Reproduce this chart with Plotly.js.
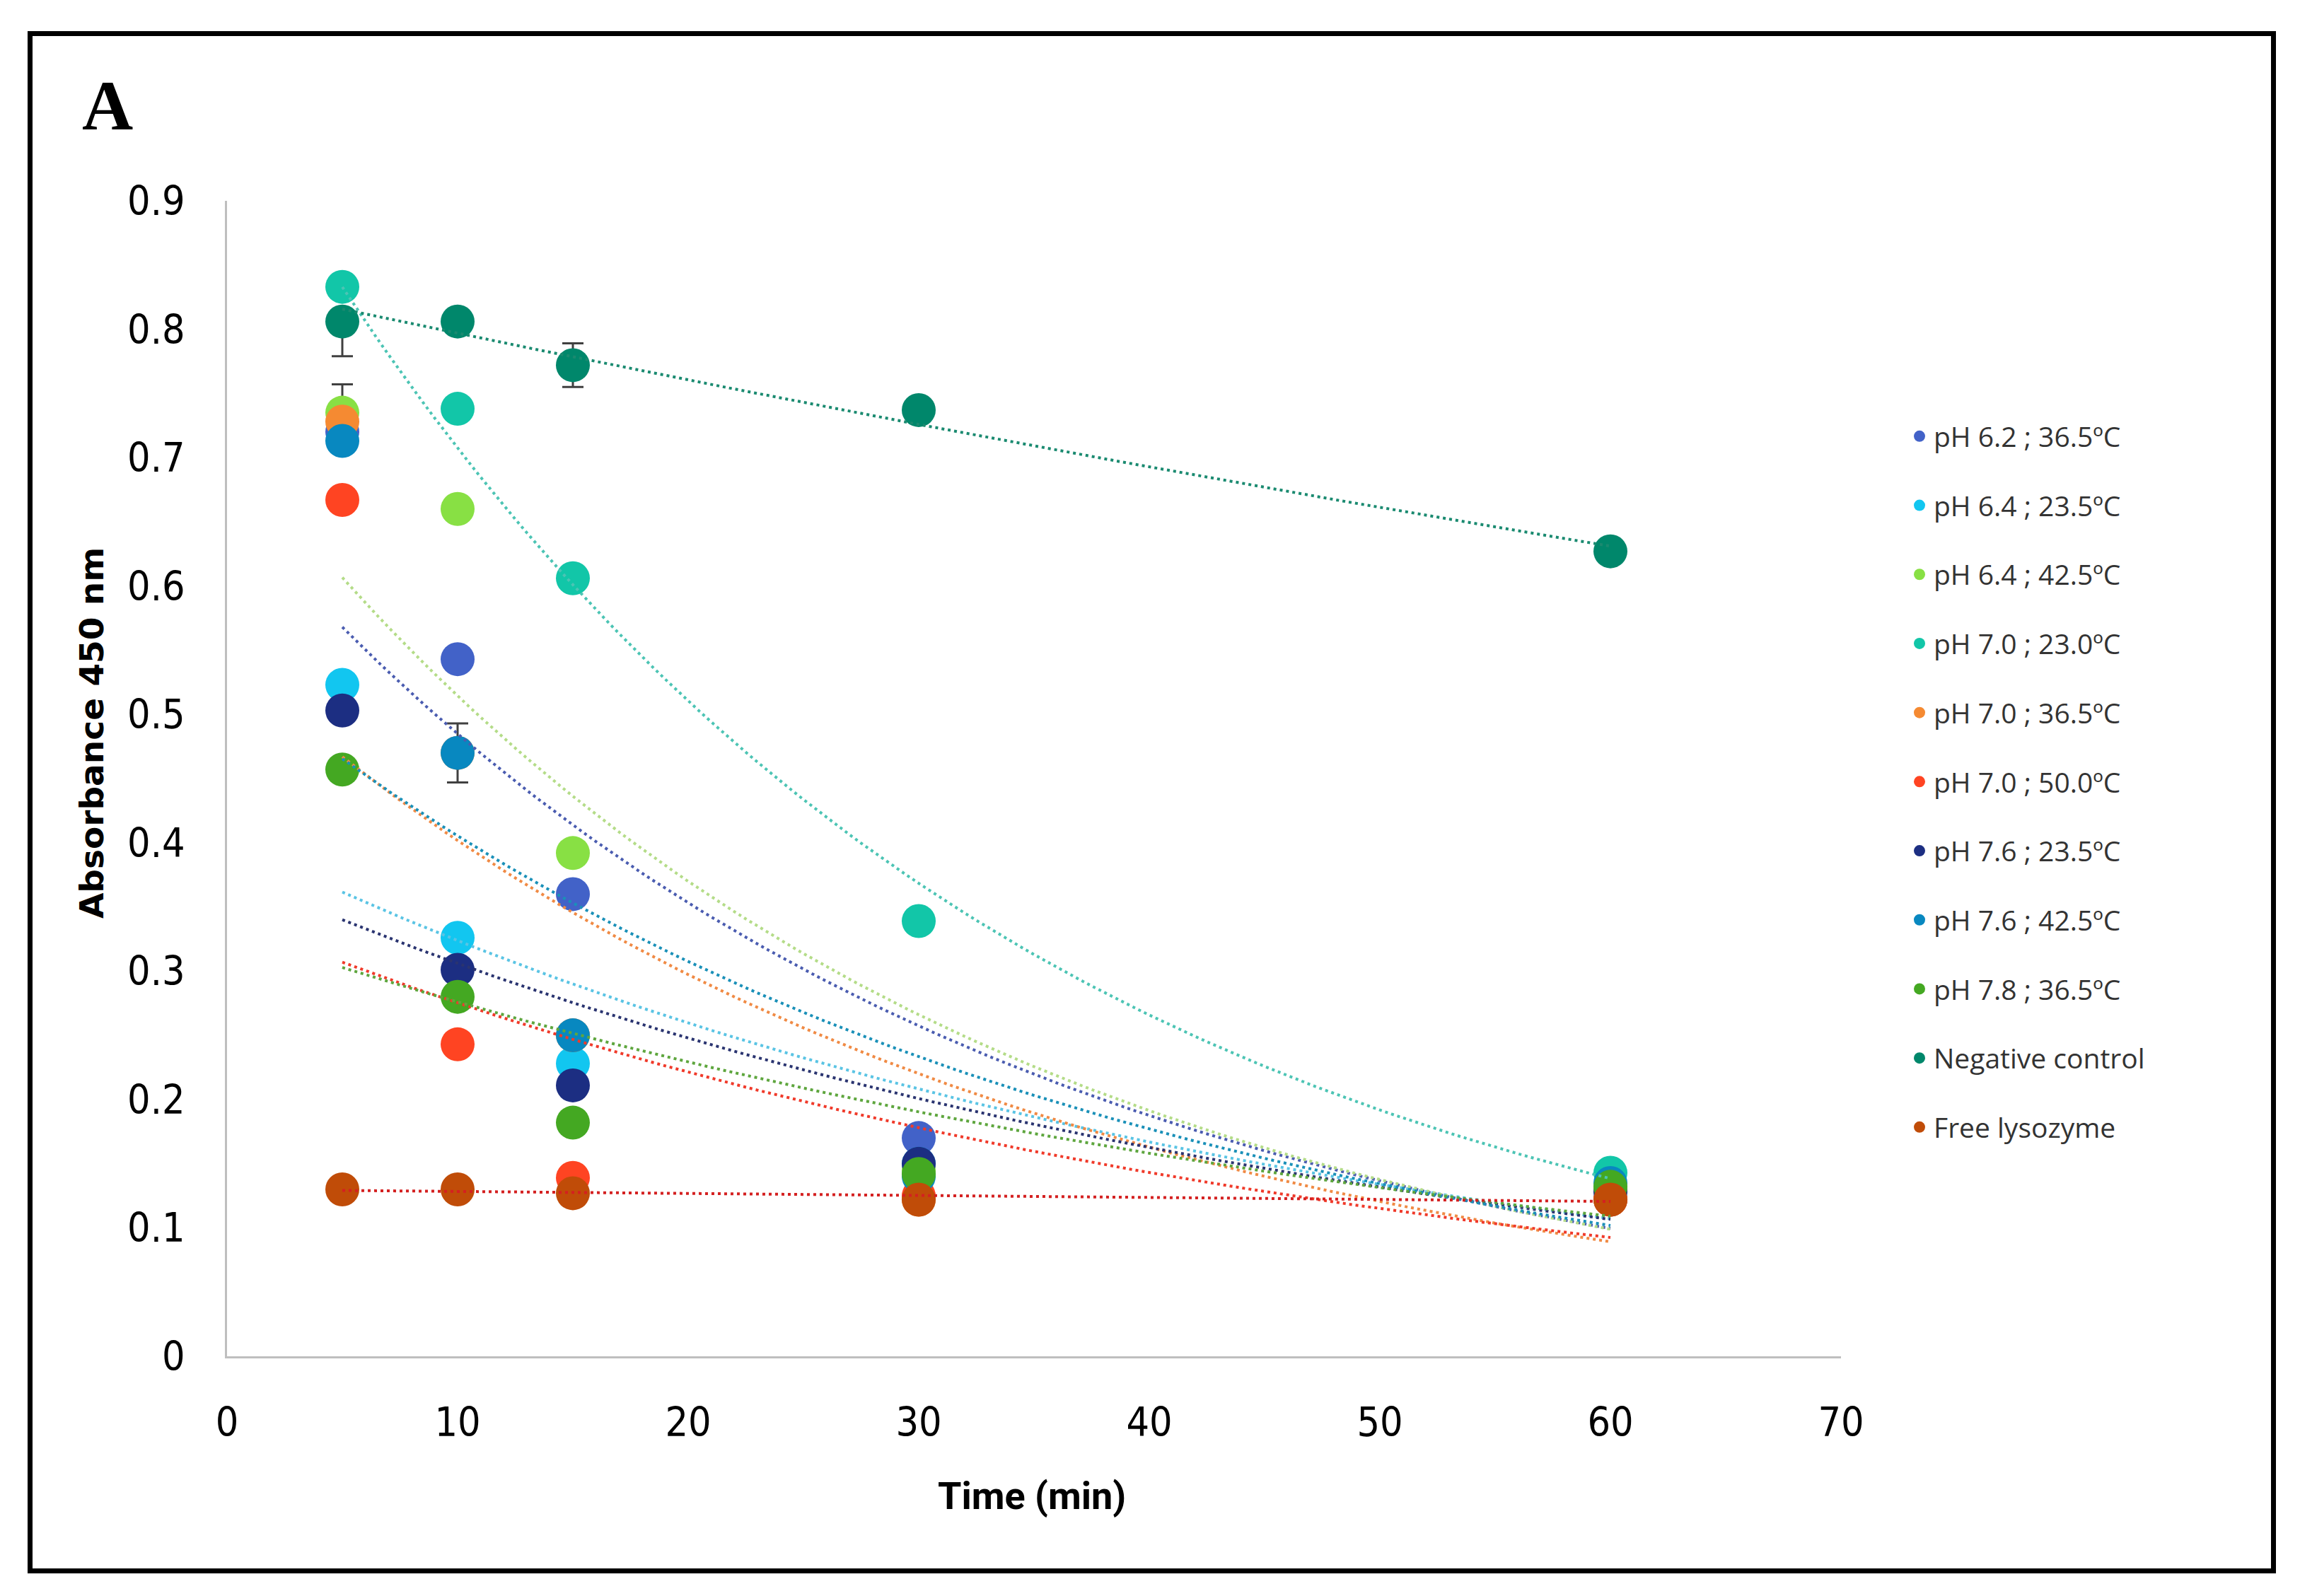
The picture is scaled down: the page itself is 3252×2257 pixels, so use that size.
<!DOCTYPE html>
<html>
<head>
<meta charset="utf-8">
<script src="https://cdn.plot.ly/plotly-3.0.1.min.js"></script>
<style>
html,body{margin:0;padding:0;background:#fff;}
#chart{width:3252px;height:2257px;}
</style>
</head>
<body>
<div id="chart"></div>
<script>
// ---- data ----
const times = [5, 10, 15, 30, 60];

const seriesNames = [
  'pH 6.2 ; 36.5ºC', 'pH 6.4 ; 23.5ºC', 'pH 6.4 ; 42.5ºC', 'pH 7.0 ; 23.0ºC',
  'pH 7.0 ; 36.5ºC', 'pH 7.0 ; 50.0ºC', 'pH 7.6 ; 23.5ºC', 'pH 7.6 ; 42.5ºC',
  'pH 7.8 ; 36.5ºC', 'Negative control', 'Free lysozyme'
];

const ph62_365 = [0.720, 0.543, 0.360, 0.170, 0.122];
const ph64_235 = [0.523, 0.326, 0.228, 0.150, 0.130];
const ph64_425 = [0.735, 0.660, 0.392, 0.145, 0.130];
const ph70_230 = [0.833, 0.738, 0.606, 0.339, 0.143];
const ph70_365 = [0.728, 0.470, 0.250, 0.122, 0.122];
const ph70_500 = [0.667, 0.243, 0.139, 0.125, 0.122];
const ph76_235 = [0.503, 0.301, 0.211, 0.150, 0.128];
const ph76_425 = [0.713, 0.470, 0.250, 0.140, 0.135];
const ph78_365 = [0.457, 0.280, 0.182, 0.142, 0.132];
const negControl = [0.806, 0.806, 0.772, 0.737, 0.627];
const freeLysozyme = [0.130, 0.130, 0.127, 0.122, 0.122];

// visible error bars (plus / minus parts; 0 = none visible)
const ph64_425ErrPlus  = [0.022, 0, 0, 0, 0];
const ph64_425ErrMinus = [0, 0, 0, 0, 0];
const ph76_425ErrPlus  = [0, 0.023, 0, 0, 0];
const ph76_425ErrMinus = [0, 0.023, 0, 0, 0];
const negControlErrPlus  = [0, 0, 0.017, 0, 0.006];
const negControlErrMinus = [0.027, 0, 0.017, 0, 0.006];

const seriesValues = [ph62_365, ph64_235, ph64_425, ph70_230, ph70_365, ph70_500,
                      ph76_235, ph76_425, ph78_365, negControl, freeLysozyme];
const seriesErrors = [null, null, [ph64_425ErrPlus, ph64_425ErrMinus], null, null, null,
                      null, [ph76_425ErrPlus, ph76_425ErrMinus], null,
                      [negControlErrPlus, negControlErrMinus], null];

const xTicks = [0, 10, 20, 30, 40, 50, 60, 70];
const yTicks = [0, 0.1, 0.2, 0.3, 0.4, 0.5, 0.6, 0.7, 0.8, 0.9];

// ---- styles ----
const markerColors = ['#4262C8', '#12C6F0', '#88E044', '#12C6A8', '#F58A32', '#FF4422',
                      '#1C2E82', '#0888C0', '#44A822', '#00876B', '#C04C08'];
const trendColors  = ['#4a5cb0', '#5ac4e4', '#b4dc88', '#4cc4b4', '#f08a44', '#f03a2a',
                      '#2a3470', '#1a90b8', '#5ea63e', '#1a8a70', '#d42020'];

// Excel-style exponential trendline: least squares on ln(y)
function expFit(xs, ys) {
  const n = xs.length;
  const ly = ys.map(v => Math.log(v));
  const mx = xs.reduce((a, b) => a + b, 0) / n;
  const my = ly.reduce((a, b) => a + b, 0) / n;
  let sxy = 0, sxx = 0;
  for (let i = 0; i < n; i++) { sxy += (xs[i] - mx) * (ly[i] - my); sxx += (xs[i] - mx) ** 2; }
  const b = sxy / sxx;
  const a = Math.exp(my - b * mx);
  return { a, b };
}

const traces = [];
// markers first
seriesNames.forEach((name, i) => {
  const t = {
    type: 'scatter', mode: 'markers', name: name,
    x: times, y: seriesValues[i],
    marker: { color: markerColors[i], size: 48, line: { width: 0 } },
    legendgroup: 'g' + i, showlegend: true, cliponaxis: false
  };
  if (seriesErrors[i]) {
    t.error_y = { type: 'data', symmetric: false, array: seriesErrors[i][0], arrayminus: seriesErrors[i][1],
                  visible: true, color: '#404040', thickness: 3, width: 15 };
  }
  traces.push(t);
});
// trendlines over markers
seriesNames.forEach((name, i) => {
  const f = expFit(times, seriesValues[i]);
  const tx = [], ty = [];
  for (let x = times[0]; x <= times[times.length - 1] + 1e-9; x += 0.5) {
    tx.push(x); ty.push(f.a * Math.exp(f.b * x));
  }
  traces.push({
    type: 'scatter', mode: 'lines', x: tx, y: ty, name: name + ' (trend)',
    line: { color: trendColors[i], width: 4, dash: '4px,5px' },
    showlegend: false, hoverinfo: 'skip', legendgroup: 'g' + i
  });
});

const W = 3252, H = 2257;
const L = 321, R = 2603, T = 284, B = 1918;
const px = v => (v - L) / (R - L);
const py = v => (B - v) / (B - T);

const tickFont = { family: 'Liberation Sans Narrow, Arial Narrow, DejaVu Sans Condensed, sans-serif', size: 57, color: '#000000' };

const layout = {
  width: W, height: H,
  margin: { l: L, r: W - R, t: T, b: H - B, pad: 0 },
  paper_bgcolor: '#ffffff', plot_bgcolor: '#ffffff',
  showlegend: true,
  xaxis: {
    range: [0, 70], tickvals: xTicks, ticktext: xTicks.map(String),
    showgrid: false, zeroline: false, showline: true, linecolor: '#BFBFBF', linewidth: 3,
    ticks: '', tickfont: tickFont, ticklabelstandoff: 42, fixedrange: true
  },
  yaxis: {
    range: [0, 0.9], tickvals: yTicks, ticktext: yTicks.map(v => String(v)),
    showgrid: false, zeroline: false, showline: true, linecolor: '#BFBFBF', linewidth: 3,
    ticks: '', tickfont: tickFont, ticklabelstandoff: 45, fixedrange: true
  },
  legend: {
    x: px(2694), y: py(585), xanchor: 'left', yanchor: 'top',
    font: { family: 'Open Sans, sans-serif', size: 39, color: '#333333' },
    bgcolor: 'rgba(0,0,0,0)', borderwidth: 0,
    tracegroupgap: 44, itemsizing: 'trace', traceorder: 'grouped'
  },
  annotations: [
    { text: '<b>A</b>', xref: 'paper', yref: 'paper', x: px(152), y: py(149),
      xanchor: 'center', yanchor: 'middle', showarrow: false,
      font: { family: 'Liberation Serif, Times New Roman, serif', size: 100, color: '#000' } },
    { text: '<b>Time (min)</b>', xref: 'paper', yref: 'paper', x: px(1459), y: py(2115),
      xanchor: 'center', yanchor: 'middle', showarrow: false,
      font: { family: 'Roboto, sans-serif', size: 54, color: '#000' } },
    { text: '<b>Absorbance 450 nm</b>', xref: 'paper', yref: 'paper', x: px(129), y: py(1037),
      xanchor: 'center', yanchor: 'middle', showarrow: false, textangle: -90,
      font: { family: 'DejaVu Sans, Verdana, sans-serif', size: 47, color: '#000' } }
  ],
  shapes: [
    { type: 'rect', xref: 'paper', yref: 'paper',
      x0: px(42.5), x1: px(3214.5), y0: py(2221.5), y1: py(47.5),
      line: { color: '#000000', width: 7 }, fillcolor: 'rgba(0,0,0,0)', layer: 'above' }
  ]
};

Plotly.newPlot('chart', traces, layout, { displayModeBar: false, staticPlot: true });
</script>
</body>
</html>
